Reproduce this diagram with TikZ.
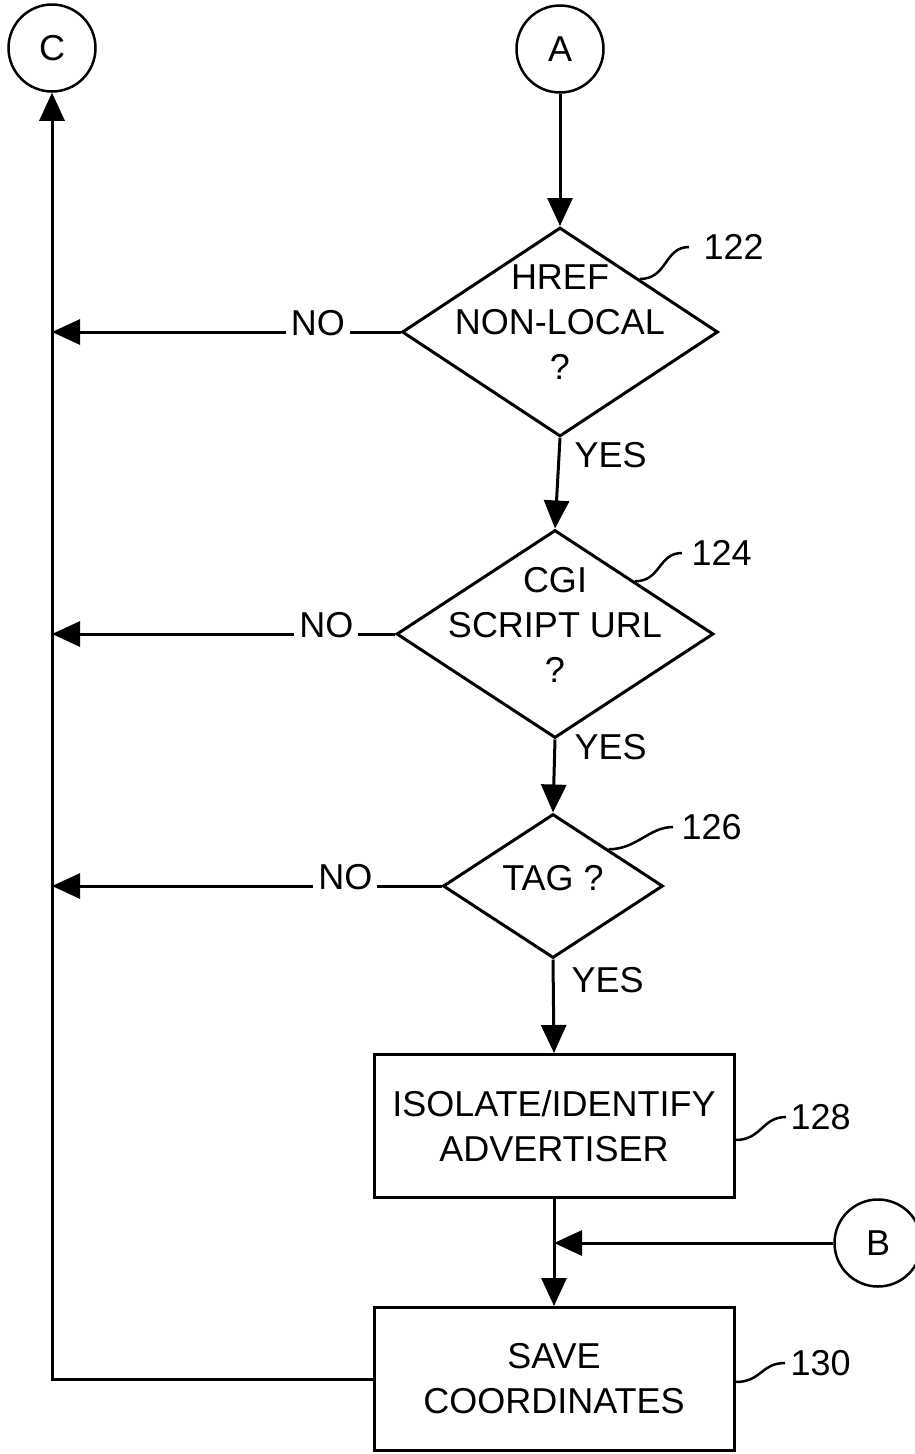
\documentclass[tikz,border=0pt]{standalone}
\usepackage{fontspec}
\setmainfont{Liberation Sans}
\usetikzlibrary{arrows.meta,shapes.geometric}

\begin{document}
\begin{tikzpicture}[
    x=1pt, y=-1pt,
    line width=3pt,
    every node/.style={font=\fontsize{36}{45}\selectfont},
    dec/.style={draw, diamond, inner sep=0pt},
    txt/.style={align=center, inner sep=0pt},
    proc/.style={
      draw,
      rectangle,
      minimum width=360pt,
      minimum height=143pt,
      inner sep=0pt,
      align=center
    },
    conn/.style={draw, circle, minimum size=87pt, inner sep=0pt, line width=2.5pt},
    arr/.style={-{Triangle[length=28pt,width=25pt]}},
    no/.style={fill=white, inner sep=5pt, anchor=base, yshift=-3pt},
    yes/.style={anchor=west, inner sep=0pt},
    refnum/.style={anchor=west, inner ysep=0pt, inner xsep=#1},
    lead/.style={line width=2.5pt}
  ]
    \useasboundingbox (0,0) rectangle (914,1454);
    % off-page connectors
    \node[conn] (C) at (52,48) {C};
    \node[conn] (A) at (560,49) {A};
    \node[conn] (B) at (878,1243) {B};
    % decisions
    \node[dec, minimum width=316pt, minimum height=209pt] (d122) at (560,332) {};
    \node[txt] (t122) at (560,322) {HREF\\NON-LOCAL\\?};
    \node[dec, minimum width=317pt, minimum height=208pt] (d124) at (555,634) {};
    \node[txt] (t124) at (555,625) {CGI\\SCRIPT URL\\?};
    \node[dec, minimum width=220pt, minimum height=144pt] (d126) at (553,886) {};
    \node[txt] (t126) at (553,878) {TAG ?};
    % process boxes
    \node[proc] (b128) at (554,1126) {ISOLATE/IDENTIFY\\ADVERTISER};
    \node[proc] (b130) at (554,1379) {SAVE\\COORDINATES};
    % reference numerals
    \node[refnum=13pt] (n122) at (689,247) {122};
    \node[refnum=8pt] (n124) at (682,553) {124};
    \node[refnum=7pt] (n126) at (673,827) {126};
    \node[refnum=3pt] (n128) at (786,1117) {128};
    \node[refnum=4pt] (n130) at (785,1363) {130};
    \draw[lead] (d122.north east) .. controls +(28,0) and +(-25,0) .. (n122.west);
    \draw[lead] (d124.north east) .. controls +(26,0) and +(-24,0) .. (n124.west);
    \draw[lead] (d126.north east) .. controls +(28,0) and +(-24,0) .. (n126.west);
    \draw[lead] ([yshift=-14pt]b128.east) .. controls +(26,0) and +(-24,0) .. (n128.west);
    \draw[lead] ([yshift=-3pt]b130.east) .. controls +(26,0) and +(-24,0) .. (n130.west);
    % main flow
    \draw[arr] (A) -- (d122.north);
    \foreach \a/\b in {d122/d124,d124/d126,d126/b128,b128/b130}
      \draw[arr] (\a.south) -- (\b.north);
    \node[yes] (y122) at (573,455) {YES};
    \node[yes] (y124) at (573,747) {YES};
    \node[yes] (y126) at (570,980) {YES};
    % no branches
    \draw[arr] (d122.west) -- node[no, pos=0.237] (no122) {NO} (d122.west -| C);
    \draw[arr] (d124.west) -- node[no, pos=0.2] (no124) {NO} (d124.west -| C);
    \draw[arr] (d126.west) -- node[no, pos=0.247] (no126) {NO} (d126.west -| C);
    % return paths
    \draw[arr] (b130.west) -- (b130.west -| C) -- (C.south);
    \draw[arr] (B) -- (b128.south |- B);
  \end{tikzpicture}
\end{document}
